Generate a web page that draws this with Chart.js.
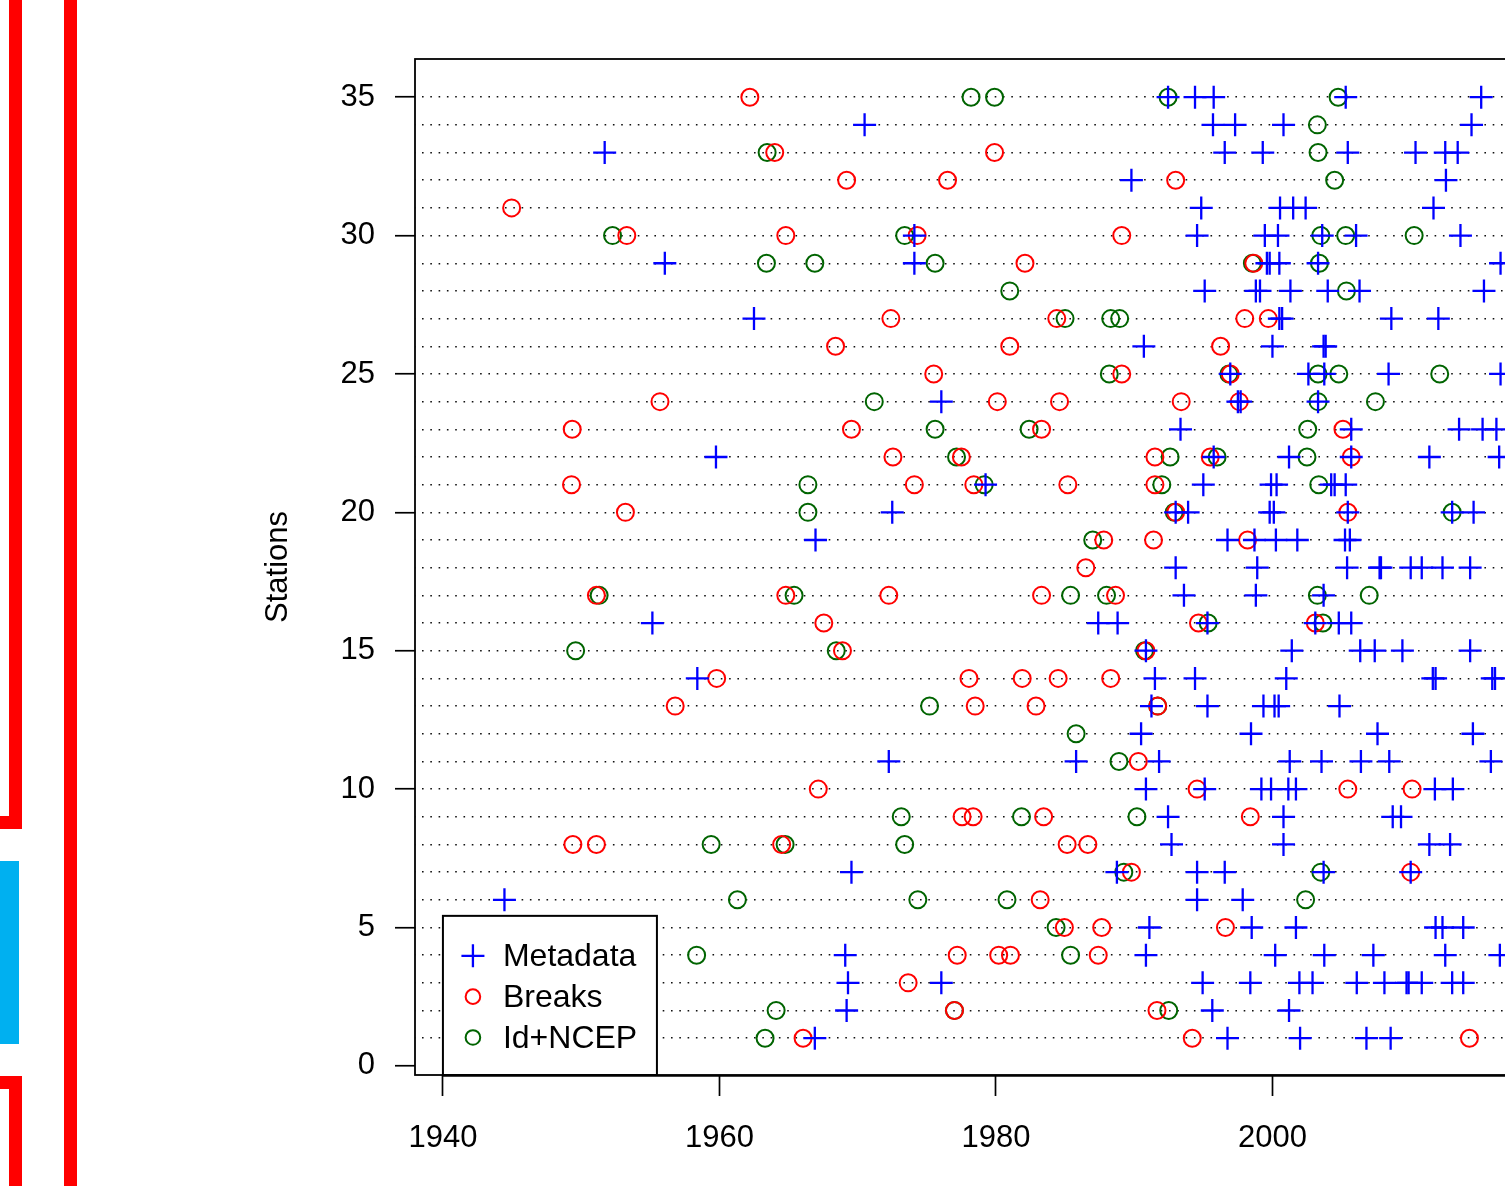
<!DOCTYPE html>
<html>
<head>
<meta charset="utf-8">
<script src="https://cdn.jsdelivr.net/npm/chart.js@4.4.1/dist/chart.umd.min.js"></script>
<style>
  html, body { margin: 0; padding: 0; background: #fff; overflow: hidden; }
  #wrap { position: relative; width: 1505px; height: 1186px; overflow: hidden; background: #fff; }
  #chart { position: absolute; left: 0; top: 0; }
  .bar { position: absolute; background: #ff0000; }
  .cyan { background: #00b0f0; }
</style>
</head>
<body>
<div id="wrap">
  <canvas id="chart" width="1700" height="1186"></canvas>
  <div class="bar" style="left:9px;top:0;width:13px;height:829px"></div>
  <div class="bar" style="left:0;top:816px;width:22px;height:13px"></div>
  <div class="bar cyan" style="left:0;top:861px;width:19px;height:183px"></div>
  <div class="bar" style="left:0;top:1076px;width:22px;height:13px"></div>
  <div class="bar" style="left:9px;top:1076px;width:13px;height:110px"></div>
  <div class="bar" style="left:64px;top:0;width:13px;height:1186px"></div>
</div>
<script>
// years of the events, one list per station (station 1 first)
var metadataYears = [
  [1966.9, 1996.75, 2002.0, 2006.8, 2008.55],
  [1969.2, 1995.65, 2001.2],
  [1969.3, 1976.05, 1994.95, 1998.4, 2001.95, 2002.9, 2006.1, 2008.1, 2009.7, 2009.85, 2010.8, 2013.0, 2013.8],
  [1969.1, 1990.85, 2000.2, 2003.75, 2007.3, 2012.5, 2016.45],
  [1991.1, 1998.5, 2001.7, 2011.8, 2012.3, 2013.8],
  [1944.45, 1994.55, 1997.85],
  [1969.55, 1988.75, 1994.55, 1996.55, 2003.7, 2010.0],
  [1992.7, 2000.8, 2011.35, 2012.85],
  [1992.45, 2000.8, 2008.7, 2009.3],
  [1990.85, 1995.1, 1999.2, 1999.9, 2001.15, 2001.7, 2011.75, 2013.05],
  [1972.25, 1985.8, 1991.8, 2001.25, 2003.55, 2006.4, 2008.45, 2015.8],
  [1990.5, 1998.45, 2007.6, 2014.5],
  [1991.25, 1995.3, 1999.35, 2000.15, 2000.45, 2004.85],
  [1958.4, 1991.5, 1994.4, 2001.0, 2011.6, 2011.8, 2015.9, 2016.1],
  [1990.85, 2001.4, 2006.35, 2007.4, 2009.4, 2014.3],
  [1955.15, 1987.4, 1988.8, 1995.3, 2003.1, 2004.8, 2005.7],
  [1993.6, 1998.8, 2003.7],
  [1993.0, 1998.9, 2005.4, 2007.75, 2007.85, 2010.0, 2010.8, 2012.3, 2014.3],
  [1966.95, 1996.75, 1998.7, 2000.25, 2001.8, 2005.25, 2005.6],
  [1972.5, 1993.0, 1993.9, 1999.8, 2000.1, 2005.45, 2013.0, 2014.55],
  [1979.25, 1995.0, 1999.9, 2000.3, 2004.25, 2004.5, 2005.3],
  [1959.75, 1995.75, 2001.2, 2005.7, 2011.35, 2016.4],
  [1993.35, 2005.7, 2013.5, 2015.2, 2016.2],
  [1976.05, 1997.5, 1997.7, 2003.3],
  [1996.95, 2002.6, 2003.75, 2008.4, 2016.5],
  [1990.7, 2000.0, 2003.7, 2003.85],
  [1962.5, 2000.5, 2000.7, 2008.6, 2012.0],
  [1995.1, 1998.8, 1999.1, 2001.3, 2004.0, 2006.3, 2015.3],
  [1956.05, 1974.1, 1999.6, 1999.8, 2000.5, 2003.3, 2016.5],
  [1974.1, 1994.55, 1999.45, 2000.4, 2003.6, 2006.05, 2013.6],
  [1994.85, 2000.55, 2001.5, 2002.4, 2011.65],
  [1989.8, 2012.55],
  [1951.7, 1996.55, 1999.3, 2005.45, 2010.35, 2012.5, 2013.4],
  [1970.5, 1995.7, 1997.3, 2000.8, 2014.4],
  [1992.45, 1994.4, 1995.75, 2005.3, 2015.1]
];

var breakYears = [
  [1966.05, 1994.2, 2014.25],
  [1977.0, 1991.65],
  [1973.65],
  [1977.2, 1980.2, 1981.05, 1987.4],
  [1984.95, 1987.65, 1996.6],
  [1983.2],
  [1989.8, 2010.0],
  [1949.4, 1951.1, 1964.5, 1985.15, 1986.65],
  [1977.55, 1978.35, 1983.45, 1998.4],
  [1967.15, 1994.55, 2005.45, 2010.1],
  [1990.3],
  [],
  [1956.8, 1978.5, 1982.9, 1991.7],
  [1959.8, 1978.05, 1981.9, 1984.5, 1988.3],
  [1968.9, 1990.85],
  [1967.55, 1994.65, 2003.1],
  [1951.1, 1964.8, 1972.25, 1983.3, 1988.65],
  [1986.5],
  [1987.8, 1991.4, 1998.2],
  [1953.2, 1993.0, 2005.45],
  [1949.3, 1974.1, 1978.4, 1985.2, 1991.5],
  [1972.55, 1977.5, 1991.5, 1995.5, 2005.7],
  [1949.35, 1969.55, 1983.3, 2005.1],
  [1955.7, 1980.1, 1984.6, 1993.4, 1997.6],
  [1975.5, 1989.1, 1996.95],
  [1968.4, 1981.0, 1996.25],
  [1972.4, 1984.4, 1998.0, 1999.7],
  [],
  [1982.1, 1998.65],
  [1953.3, 1964.8, 1974.3, 1989.1],
  [1944.97],
  [1969.2, 1976.5, 1993.0],
  [1964.0, 1979.9],
  [],
  [1962.2]
];

var ncepYears = [
  [1963.3],
  [1964.1, 1977.0, 1992.5],
  [],
  [1958.35, 1985.4],
  [1984.35],
  [1961.3, 1974.35, 1980.8, 2002.4],
  [1989.25, 2003.5],
  [1959.4, 1964.75, 1973.4],
  [1973.15, 1981.85, 1990.2],
  [],
  [1988.9],
  [1985.8],
  [1975.2, 1991.7],
  [],
  [1949.6, 1968.45, 1990.75],
  [1995.35, 2003.65],
  [1951.3, 1965.4, 1985.4, 1988.0, 2003.25, 2007.0],
  [],
  [1987.0],
  [1966.4, 1992.9, 2013.0],
  [1966.4, 1979.15, 1992.0, 2003.35],
  [1977.15, 1992.6, 1996.0, 2002.5],
  [1975.6, 1982.4, 2002.55],
  [1971.2, 2003.3, 2007.45],
  [1988.2, 1996.85, 2003.3, 2004.8, 2012.1],
  [],
  [1985.0, 1988.3, 1988.95],
  [1981.0, 2005.35],
  [1963.4, 1966.9, 1975.6, 1998.55, 2003.4],
  [1952.27, 1973.4, 2003.5, 2005.3, 2010.25],
  [],
  [2004.5],
  [1963.45, 2003.3],
  [2003.25],
  [1978.2, 1979.9, 1992.45, 2004.75]
];

var seriesNames = ['Metadata', 'Breaks', 'Id+NCEP'];
var seriesColors = ['#0000ff', '#ff0000', '#006400'];
var xTicks = [1940, 1960, 1980, 2000, 2020];
var yTicks = [0, 5, 10, 15, 20, 25, 30, 35];

var FONT = '"Liberation Sans", Arial, Helvetica, sans-serif';

var toPoints = function (byStation) {
  let pts = [];
  byStation.forEach((years, i) => {
    years.forEach((yr) => pts.push({ x: yr, y: i + 1 }));
  });
  return pts;
};

// R style box, axis line and legend inside the plot
var rBoxPlugin = {
  id: 'rBox',
  afterDatasetsDraw: function (chart) {
    let ctx = chart.ctx;
    let a = chart.chartArea;
    let xs = chart.scales.x;
    let ys = chart.scales.y;
    ctx.save();
    ctx.strokeStyle = '#000';
    ctx.lineWidth = 1.8;
    ctx.strokeRect(a.left, a.top, a.right - a.left, a.bottom - a.top);
    ctx.lineWidth = 2;
    ctx.beginPath();
    ctx.moveTo(xs.getPixelForValue(xTicks[0]), a.bottom + 0.8);
    ctx.lineTo(xs.getPixelForValue(xTicks[xTicks.length - 1]), a.bottom + 0.8);
    ctx.stroke();

    // legend
    let lx = xs.getPixelForValue(1940);
    let ly = ys.getPixelForValue(5.42);
    let w = 214;
    let h = a.bottom - ly;
    ctx.fillStyle = '#fff';
    ctx.fillRect(lx, ly, w, h);
    ctx.lineWidth = 2;
    ctx.strokeRect(lx, ly, w, h);
    ctx.font = '32px ' + FONT;
    ctx.textBaseline = 'middle';
    ctx.textAlign = 'left';
    chart.data.datasets.forEach((ds, i) => {
      let cy = ly + 40 + i * 40.8;
      let cx = lx + 30;
      ctx.strokeStyle = ds.borderColor;
      ctx.beginPath();
      if (ds.pointStyle === 'cross') {
        ctx.lineWidth = 2.3;
        ctx.moveTo(cx - 11.5, cy);
        ctx.lineTo(cx + 11.5, cy);
        ctx.moveTo(cx, cy - 11.5);
        ctx.lineTo(cx, cy + 11.5);
      } else {
        ctx.lineWidth = 2;
        ctx.arc(cx, cy, 7.3, 0, Math.PI * 2);
      }
      ctx.stroke();
      ctx.fillStyle = '#000';
      ctx.fillText(ds.label, lx + 60, cy + 1.5);
    });
    ctx.restore();
  }
};

var makeSet = function (idx, years, style, radius, width) {
  return {
    label: seriesNames[idx],
    data: toPoints(years),
    pointStyle: style,
    pointRadius: radius,
    pointBorderWidth: width,
    borderColor: seriesColors[idx],
    pointBorderColor: seriesColors[idx],
    pointBackgroundColor: 'rgba(0,0,0,0)',
    backgroundColor: 'rgba(0,0,0,0)',
    showLine: false
  };
};

var config = {
  type: 'scatter',
  data: {
    datasets: [
      makeSet(0, metadataYears, 'cross', 11.5, 2.3),
      makeSet(1, breakYears, 'circle', 8.5, 2),
      makeSet(2, ncepYears, 'circle', 8.5, 2)
    ]
  },
  options: {
    responsive: false,
    maintainAspectRatio: false,
    animation: false,
    devicePixelRatio: 1,
    events: [],
    layout: { padding: { left: 0, top: 59, right: 140, bottom: 0 } },
    plugins: {
      legend: { display: false },
      tooltip: { enabled: false }
    },
    scales: {
      x: {
        type: 'linear',
        min: 1937.98,
        max: 2020.8,
        afterFit: (scale) => { scale.height = 111; },
        afterBuildTicks: (scale) => { scale.ticks = xTicks.map((v) => ({ value: v })); },
        border: { display: false },
        grid: {
          drawOnChartArea: false,
          drawTicks: true,
          tickLength: 21,
          tickColor: '#000',
          tickWidth: 1.7
        },
        ticks: {
          padding: 24,
          color: '#000',
          autoSkip: false,
          maxRotation: 0,
          font: { family: FONT, size: 31, lineHeight: 1.2 },
          callback: (v) => String(v)
        }
      },
      y: {
        type: 'linear',
        min: -0.33,
        max: 36.38,
        afterFit: (scale) => { scale.width = 415; },
        afterBuildTicks: (scale) => {
          let t = [];
          for (let s = 0; s <= 35; s++) t.push({ value: s });
          scale.ticks = t;
        },
        border: { display: false, dash: [1.6, 6.7], dashOffset: -7 },
        grid: {
          drawOnChartArea: true,
          drawTicks: true,
          tickLength: 20,
          lineWidth: 1.5,
          color: (c) => (c.tick && c.tick.value >= 1) ? '#111' : 'rgba(0,0,0,0)',
          tickColor: (c) => (c.tick && yTicks.indexOf(c.tick.value) >= 0) ? '#000' : 'rgba(0,0,0,0)',
          tickWidth: 1.7
        },
        ticks: {
          padding: 20,
          color: '#000',
          autoSkip: false,
          font: { family: FONT, size: 31, lineHeight: 1.2 },
          callback: (v) => (yTicks.indexOf(v) >= 0 ? String(v) : '')
        },
        title: {
          display: true,
          text: 'Stations',
          color: '#000',
          font: { family: FONT, size: 31, lineHeight: 1.2 },
          padding: { top: 260, bottom: 0 }
        }
      }
    }
  },
  plugins: [rBoxPlugin]
};

var ctx = document.getElementById('chart').getContext('2d');
var chart = new Chart(ctx, config);
</script>
</body>
</html>
